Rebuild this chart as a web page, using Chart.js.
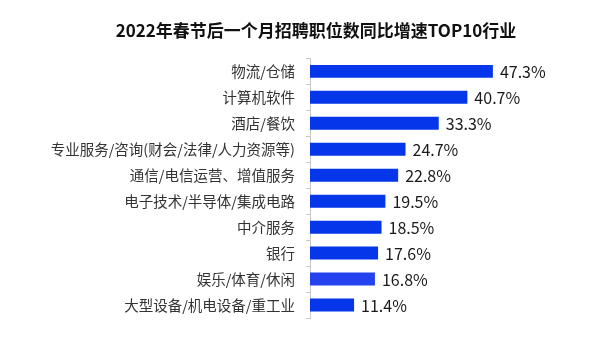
<!DOCTYPE html>
<html>
<head>
<meta charset="utf-8">
<script src="https://cdn.jsdelivr.net/npm/chart.js@4/dist/chart.umd.min.js"></script>
<style>
  html, body { margin: 0; padding: 0; background: #fff; }
  #wrap { width: 600px; height: 363px; }
</style>
</head>
<body>
<div id="wrap"><canvas id="grafica"></canvas></div>
<script>
// datos
const titulo = "2022年春节后一个月招聘职位数同比增速TOP10行业";
const industrias = [
  "物流/仓储",
  "计算机软件",
  "酒店/餐饮",
  "专业服务/咨询(财会/法律/人力资源等)",
  "通信/电信运营、增值服务",
  "电子技术/半导体/集成电路",
  "中介服务",
  "银行",
  "娱乐/体育/休闲",
  "大型设备/机电设备/重工业"
];
const crecimiento = [47.3, 40.7, 33.3, 24.7, 22.8, 19.5, 18.5, 17.6, 16.8, 11.4];

const colores = industrias.map((_, i) => i === 8 ? "#2443ef" : "#0636ea");
const fuente = "'Microsoft YaHei', 'Noto Sans CJK SC', sans-serif";

// etiquetas de valor al final de cada barra
const etiquetas = {
  id: "etiquetas",
  afterDatasetsDraw(chart) {
    const c = chart.ctx;
    const meta = chart.getDatasetMeta(0);
    c.save();
    c.font = "16px " + fuente;
    c.fillStyle = "#1a1a1a";
    c.textAlign = "left";
    c.textBaseline = "middle";
    meta.data.forEach((bar, i) => {
      c.fillText(crecimiento[i].toFixed(1) + "%", bar.x + 7, bar.y + 1);
    });
    c.restore();
  }
};

const ctx = document.getElementById("grafica").getContext("2d");
const grafica = new Chart(ctx, {
  type: "bar",
  data: {
    labels: industrias,
    datasets: [{
      data: crecimiento,
      backgroundColor: colores,
      categoryPercentage: 1,
      barPercentage: 0.5
    }]
  },
  options: {
    indexAxis: "y",
    responsive: true,
    maintainAspectRatio: false,
    animation: false,
    layout: { padding: { left: 32, right: 0, top: 0, bottom: 45 } },
    plugins: {
      legend: { display: false },
      tooltip: { enabled: false },
      title: {
        display: true,
        text: titulo,
        color: "#111",
        font: { family: fuente, size: 17, weight: "bold" },
        padding: { top: 20, bottom: 18 }
      }
    },
    scales: {
      x: {
        display: false,
        min: 0,
        max: 75
      },
      y: {
        afterFit(scale) { scale.width = 278; },
        grid: {
          offset: true,
          drawOnChartArea: false,
          tickLength: 4,
          color: "#c8c8c8"
        },
        border: { display: true, color: "#c8c8c8" },
        ticks: {
          padding: 11,
          color: "#333",
          font: { family: fuente, size: 14.5 }
        }
      }
    }
  },
  plugins: [etiquetas]
});
</script>
</body>
</html>
